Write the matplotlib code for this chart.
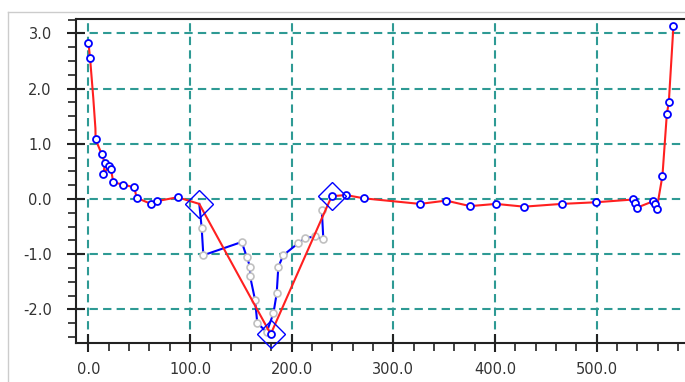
import numpy as np
import matplotlib
matplotlib.use('Agg')
import matplotlib.pyplot as plt
from matplotlib.ticker import MultipleLocator, FormatStrFormatter
from matplotlib.lines import Line2D

# fitted curve (red line)
fit_x = [0, 1.5, 4.7, 6.8, 7, 13, 16.2, 14.6, 20.5, 22.1, 24.4, 34.3, 45, 47.4, 61.5, 67, 87.8,
         109, 179.3, 233.5, 239.4, 253.4, 271.5, 326.3, 351.9, 375.5, 401, 428.6, 465.7, 499.5,
         536.3, 538, 539.5, 555.9, 557.6, 559.2, 564.8, 569.1, 571.1, 575.6]
fit_y = [2.82, 2.56, 1.83, 1.28, 1.08, 0.81, 0.645, 0.45, 0.60, 0.54, 0.30, 0.26, 0.21, 0.02, -0.09, -0.04, 0.03,
         -0.09, -2.45, -0.19, 0.05, 0.07, 0.01, -0.09, -0.03, -0.13, -0.09, -0.14, -0.09, -0.06,
         -0.01, -0.07, -0.16, -0.04, -0.10, -0.18, 0.42, 1.53, 1.76, 3.13]

# measured points (blue circles)
pts_x = [0, 1.5, 7, 13, 16.2, 14.6, 20.5, 22.1, 24.4, 34.3, 45, 47.4, 61.5, 67, 87.8,
         179.3, 239.4, 253.4, 271.5, 326.3, 351.9, 375.5, 401, 428.6, 465.7, 499.5,
         536.3, 538, 539.5, 555.9, 557.6, 559.2, 564.8, 569.1, 571.1, 575.6]
pts_y = [2.82, 2.56, 1.08, 0.81, 0.645, 0.45, 0.60, 0.54, 0.30, 0.26, 0.21, 0.02, -0.09, -0.04, 0.03,
         -2.45, 0.05, 0.07, 0.01, -0.09, -0.03, -0.13, -0.09, -0.14, -0.09, -0.06,
         -0.01, -0.07, -0.16, -0.04, -0.10, -0.18, 0.42, 1.53, 1.76, 3.13]

# raw trace in the dip (blue line, gray circles)
raw_x = [109, 111.4, 113, 150.8, 155.7, 159, 159, 163.9, 166.1, 175.4, 182, 185.2, 186.8,
         191.7, 206.5, 213.1, 222.9, 231.1, 229.6]
raw_y = [-0.09, -0.53, -1.02, -0.78, -1.05, -1.23, -1.40, -1.83, -2.25, -2.41, -2.07, -1.71, -1.23,
         -1.02, -0.80, -0.71, -0.68, -0.73, -0.20]

# selected points (diamonds)
sel_x = [109, 179.3, 239.4]
sel_y = [-0.09, -2.44, 0.05]

fig = plt.figure(figsize=(6.85, 3.82), dpi=100)
ax = fig.add_axes([76 / 685, 39 / 382, (685 - 76) / 685, (343 - 19) / 382])

ax.plot(raw_x, raw_y, color='#0000ff', lw=1.5, zorder=3)
ax.plot(raw_x[1:], raw_y[1:], ls='none', marker='o', ms=5, mfc='white', mec='#c0c0c0', mew=1.2, zorder=3)
ax.plot(fit_x, fit_y, color='#ff2020', lw=1.5, zorder=4)
ax.plot(pts_x, pts_y, ls='none', marker='o', ms=5, mfc='white', mec='#0000ff', mew=1.3, zorder=5)
ax.plot(sel_x, sel_y, ls='none', marker='D', ms=14, mfc='none', mec='#0000ff', mew=1, zorder=6, clip_on=False)

ax.set_xlim(-12.3, 587)
ax.set_ylim(-2.61, 3.26)
ax.xaxis.set_major_locator(MultipleLocator(100))
ax.xaxis.set_minor_locator(MultipleLocator(20))
ax.yaxis.set_major_locator(MultipleLocator(1))
ax.yaxis.set_minor_locator(MultipleLocator(0.25))
ax.xaxis.set_major_formatter(FormatStrFormatter('%.1f'))
ax.yaxis.set_major_formatter(FormatStrFormatter('%.1f'))

ax.grid(True, which='major', color='#2e9a94', lw=1.5, linestyle=(0, (4, 2.5)))
ax.set_axisbelow(True)

ax.tick_params(which='major', direction='inout', length=13, width=1.5, colors='#222222',
               labelsize=10.5, labelcolor='#333333')
ax.tick_params(which='minor', direction='out', length=6, width=1.2, colors='#222222')
ax.tick_params(axis='x', which='major', pad=7)
ax.tick_params(axis='y', which='major', pad=11)
ax.spines['right'].set_visible(False)
for s in ['left', 'bottom', 'top']:
    ax.spines[s].set_linewidth(1.5)
    ax.spines[s].set_color('#222222')

# panel border
fig.add_artist(Line2D([8 / 685, 8 / 685], [0, 1 - 12 / 382], color='#cccccc', lw=1))
fig.add_artist(Line2D([8 / 685, 1], [1 - 12 / 382, 1 - 12 / 382], color='#cccccc', lw=1))

fig.savefig('out.png', dpi=100)
